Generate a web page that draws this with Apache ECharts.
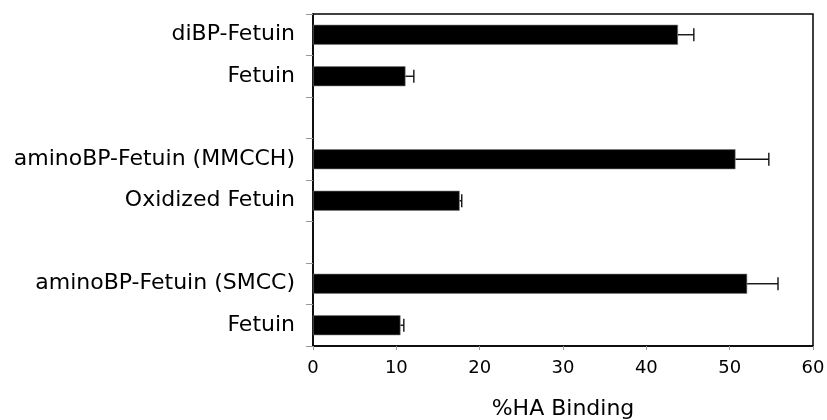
<!DOCTYPE html>
<html>
<head>
<meta charset="utf-8">
<script src="https://cdn.jsdelivr.net/npm/echarts@6/dist/echarts.min.js"></script>
<style>
html,body{margin:0;padding:0;background:#fff;}
#chart{width:827px;height:420px;}
</style>
</head>
<body>
<div id="chart"></div>
<script>
const categories = ['diBP-Fetuin', 'Fetuin', '', 'aminoBP-Fetuin (MMCCH)', 'Oxidized Fetuin', '', 'aminoBP-Fetuin (SMCC)', 'Fetuin'];
const values = [43.8, 11.1, null, 50.7, 17.6, null, 52.1, 10.5];
const errors = [1.9, 1.0, null, 4.0, 0.25, null, 3.7, 0.4];
const xTicks = { min: 0, max: 60, interval: 10 };
const xTitle = '%HA Binding';

const errData = [];
values.forEach(function (v, i) {
  if (v != null && errors[i] != null) errData.push([v, i, errors[i]]);
});

const chart = echarts.init(document.getElementById('chart'));
chart.setOption({
  animation: false,
  backgroundColor: '#fff',
  textStyle: { fontFamily: 'DejaVu Sans' },
  grid: {
    left: 313, right: 14, top: 14, bottom: 74,
    show: true, borderColor: '#000', borderWidth: 1.5,
    containLabel: false, outerBoundsMode: 'none'
  },
  xAxis: {
    type: 'value',
    min: xTicks.min, max: xTicks.max, interval: xTicks.interval,
    splitLine: { show: false },
    axisLine: { show: true, lineStyle: { color: '#000', width: 1.5 } },
    axisTick: { show: true, length: 4, lineStyle: { color: '#999', width: 1 } },
    axisLabel: { color: '#000', fontSize: 18, margin: 13, fontFamily: 'DejaVu Sans' },
    name: xTitle,
    nameLocation: 'middle',
    nameGap: 52,
    nameTextStyle: { color: '#000', fontSize: 22, fontFamily: 'DejaVu Sans' }
  },
  yAxis: {
    type: 'category',
    inverse: true,
    data: categories,
    axisLine: { show: true, lineStyle: { color: '#000', width: 1.5 } },
    axisTick: { show: true, length: 7, interval: 0, lineStyle: { color: '#999', width: 1 } },
    axisLabel: { color: '#000', fontSize: 22, margin: 18, interval: 0, fontFamily: 'DejaVu Sans' },
    splitLine: { show: false }
  },
  series: [
    {
      type: 'bar',
      data: values.map(function (v) { return v == null ? '-' : v; }),
      barWidth: '48%',
      itemStyle: { color: '#000', borderColor: '#777', borderWidth: 0.6 },
      z: 2
    },
    {
      type: 'custom',
      data: errData,
      encode: { x: [0, 2], y: 1 },
      z: 3,
      renderItem: function (params, api) {
        const v = api.value(0), c = api.value(1), e = api.value(2);
        const p0 = api.coord([v, c]);
        const p1 = api.coord([v + e, c]);
        const h = 6.5;
        const style = { stroke: '#111', lineWidth: 1.4 };
        return {
          type: 'group',
          children: [
            { type: 'line', shape: { x1: p0[0], y1: p0[1], x2: p1[0], y2: p1[1] }, style: style },
            { type: 'line', shape: { x1: p1[0], y1: p1[1] - h, x2: p1[0], y2: p1[1] + h }, style: style }
          ]
        };
      }
    }
  ]
});
</script>
</body>
</html>
